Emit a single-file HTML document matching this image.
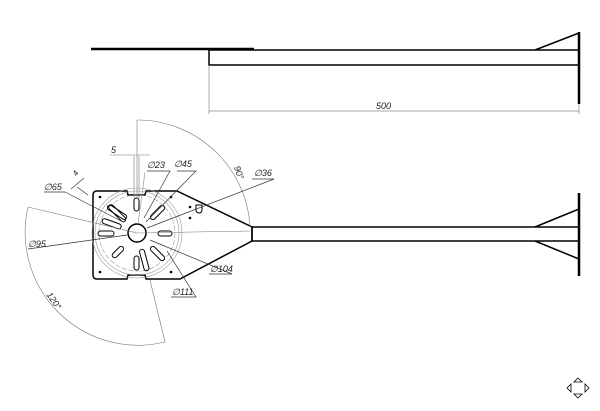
<!DOCTYPE html>
<html><head><meta charset="utf-8"><style>
html,body{margin:0;padding:0;background:#fff;}
svg{display:block;}
text{font-family:"Liberation Sans",sans-serif;font-style:italic;fill:#222;}
</style></head><body>
<svg width="600" height="411" viewBox="0 0 600 411" xmlns="http://www.w3.org/2000/svg">
<!-- top view -->
<g stroke="#000" fill="none">
<line x1="91" y1="49" x2="254" y2="49" stroke-width="2.5"/>
<rect x="209" y="50" width="370" height="15" stroke-width="1.5"/>
<line x1="579" y1="32" x2="579" y2="104" stroke-width="2.5"/>
<polyline points="535,50 579,33" stroke-width="1.5"/>
</g>
<g stroke="#888" stroke-width="0.7" fill="none">
<line x1="209" y1="65" x2="209" y2="114"/>
<line x1="579" y1="104" x2="579" y2="114"/>
<line x1="209" y1="111" x2="579" y2="111"/>
</g>
<text x="376" y="109" font-size="9">500</text>

<!-- front view tube -->
<g stroke="#000" fill="none" stroke-width="1.5">
<line x1="252" y1="227" x2="579" y2="227"/>
<line x1="252" y1="241" x2="579" y2="241"/>
<line x1="252" y1="227" x2="252" y2="241"/>
<line x1="579" y1="193" x2="579" y2="276" stroke-width="2.5"/>
<line x1="535" y1="227" x2="579" y2="209"/>
<line x1="535" y1="241" x2="579" y2="259"/>
</g>

<!-- plate -->
<g stroke="#000" fill="none" stroke-width="1.5">
<path d="M97,191 L127,191 L128,195 L145,195 L146,191 L177,191 L252,227 L252,241 L180,279 L146,279 L145,275 L128,275 L127,279 L97,279 Q93,279 93,275 L93,195 Q93,191 97,191 Z"/>
<circle cx="137" cy="233" r="9"/>
<path d="M196,210 A3,3 0 0 0 202,210 L202,205 L196,205 Z" stroke-width="1"/>
</g>
<g stroke="#999" fill="none" stroke-width="0.6">
<circle cx="137" cy="233" r="38" stroke-dasharray="5,2"/>
<circle cx="137" cy="233" r="42"/>
<circle cx="137" cy="233" r="45"/>
</g>
<g stroke="#000" fill="none" stroke-width="1">
<rect x="134" y="198" width="5" height="13" rx="2.5"/>
<rect x="134" y="256" width="5" height="14" rx="2.5"/>
<rect x="98" y="231" width="16" height="5" rx="2.5"/>
<rect x="158" y="231" width="14" height="5" rx="2.5"/>
<g transform="rotate(45 137 233)"><rect x="157" y="230.5" width="18" height="5" rx="2.5"/></g>
<g transform="rotate(-45 137 233)"><rect x="157" y="230.5" width="18" height="5" rx="2.5"/></g>
<g transform="rotate(135 137 233)"><rect x="157" y="230.5" width="14" height="5" rx="2.5"/></g>
<g transform="rotate(-135 137 233)"><rect x="154" y="230.5" width="22" height="5" rx="2.5"/><rect x="154" y="237" width="22" height="5" rx="2.5" transform="rotate(-12 137 233)"/></g>
<g transform="rotate(-160 137 233)"><rect x="154" y="230.5" width="20" height="5" rx="2.5"/></g>
<g transform="rotate(75 137 233)"><rect x="154" y="230.5" width="22" height="5" rx="2.5"/></g>
</g>
<g fill="#000">
<circle cx="100" cy="197" r="1.3"/><circle cx="171" cy="197" r="1.3"/>
<circle cx="100" cy="272" r="1.3"/><circle cx="171" cy="272" r="1.3"/>
<circle cx="190" cy="207" r="1.3"/><circle cx="190" cy="218" r="1.3"/>
</g>

<!-- dimension lines -->
<g stroke="#777" fill="none" stroke-width="0.6">
<path d="M137,120 A113,113 0 0 1 250,227"/>
<path d="M28,207 A113,113 0 0 0 165,342"/>
<line x1="137" y1="120" x2="137" y2="198"/>
<line x1="134" y1="156" x2="134" y2="198"/>
<line x1="139" y1="156" x2="139" y2="198"/>
<line x1="110" y1="155" x2="150" y2="155"/>
<line x1="137" y1="233" x2="250" y2="231"/>
<line x1="137" y1="233" x2="28" y2="207"/>
<line x1="150" y1="280" x2="165" y2="342"/>
</g>
<g stroke="#333" fill="none" stroke-width="0.7">
<line x1="65" y1="192" x2="123" y2="222"/><line x1="44" y1="192" x2="65" y2="192"/>
<line x1="28" y1="249" x2="127" y2="235"/>
<polyline points="147,171 170,171 144,218"/>
<polyline points="177,171 196,171 146,222"/>
<polyline points="252,179 274,179 147,228"/>
<polyline points="209,274 232,274 150,240"/>
<polyline points="171,297 196,297 167,251"/>
<line x1="145" y1="172" x2="138" y2="224" stroke="#999"/>
<line x1="84" y1="178" x2="71" y2="189"/><line x1="77" y1="187" x2="88" y2="195"/>
</g>
<g font-size="9">
<text x="111" y="153">5</text>
<text x="147" y="168" fill="#777">∅23</text>
<text x="174" y="167">∅45</text>
<text x="44" y="190">∅65</text>
<text x="254" y="176">∅36</text>
<text x="28" y="247">∅95</text>
<text x="210" y="272">∅104</text>
<text x="172" y="295">∅111</text>
<text x="73" y="174" transform="rotate(-60 77 172)" font-size="8">4</text>
<text x="234" y="173" transform="rotate(70 238 170)" font-size="9" fill="#777">90°</text>
<text x="46" y="301" transform="rotate(55 52 298)" font-size="9" fill="#777">120°</text>
</g>

<!-- nav icon -->
<g stroke="#000" fill="#fff" stroke-width="0.8">
<polygon points="578,378 582,382 574,382"/>
<polygon points="578,398 582,394 574,394"/>
<polygon points="567,388 571,384 571,392"/>
<polygon points="589,388 585,384 585,392"/>
</g>
</svg>
</body></html>
